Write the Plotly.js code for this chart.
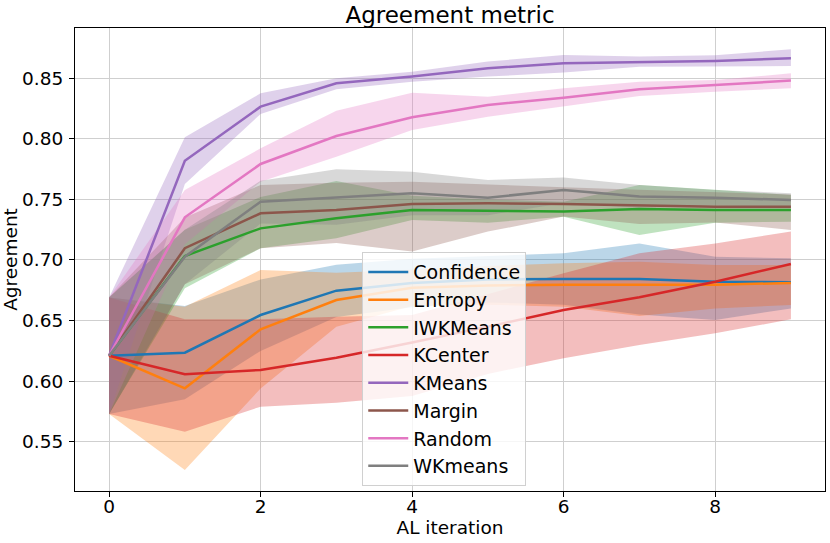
<!DOCTYPE html>
<html>
<head>
<meta charset="utf-8">
<script src="https://cdn.plot.ly/plotly-3.0.1.min.js"></script>
<style>
  body { margin: 0; }
  #chart { width: 830px; height: 543px; }
</style>
</head>
<body>
<div id="chart"></div>
<script>
// AL iterations
const iterations = [0, 1, 2, 3, 4, 5, 6, 7, 8, 9]

// mean agreement per strategy, with band upper/lower edges
const confidenceMean  = [0.621, 0.6235, 0.6546, 0.6747, 0.681, 0.684, 0.6843, 0.6843, 0.6821, 0.6816]
const confidenceUpper = [0.669, 0.662, 0.684, 0.696, 0.701, 0.703, 0.7055, 0.7137, 0.7027, 0.7014]
const confidenceLower = [0.573, 0.585, 0.625, 0.653, 0.661, 0.665, 0.663, 0.655, 0.6505, 0.66]

const entropyMean  = [0.621, 0.5941, 0.6428, 0.667, 0.677, 0.679, 0.6796, 0.6796, 0.6796, 0.681]
const entropyUpper = [0.669, 0.6615, 0.6917, 0.6895, 0.692, 0.695, 0.6973, 0.6986, 0.6959, 0.6959]
const entropyLower = [0.573, 0.5267, 0.594, 0.645, 0.662, 0.663, 0.6615, 0.6538, 0.66, 0.6629]

const iwkmeansMean  = [0.621, 0.7033, 0.7261, 0.7344, 0.7413, 0.7405, 0.7399, 0.7421, 0.7413, 0.7413]
const iwkmeansUpper = [0.669, 0.725, 0.752, 0.7652, 0.753, 0.75, 0.748, 0.7619, 0.758, 0.7536]
const iwkmeansLower = [0.573, 0.6766, 0.7097, 0.718, 0.733, 0.7308, 0.7357, 0.7206, 0.7308, 0.7316]

const kcenterMean  = [0.621, 0.6057, 0.6093, 0.6194, 0.632, 0.645, 0.6588, 0.6692, 0.6821, 0.6967]
const kcenterUpper = [0.669, 0.651, 0.651, 0.6532, 0.6547, 0.672, 0.689, 0.7055, 0.7137, 0.7234]
const kcenterLower = [0.573, 0.5583, 0.579, 0.5823, 0.5878, 0.606, 0.6189, 0.6299, 0.6395, 0.651]

const kmeansMean  = [0.621, 0.7819, 0.8265, 0.8458, 0.8513, 0.8582, 0.8623, 0.8631, 0.8642, 0.8664]
const kmeansUpper = [0.669, 0.8012, 0.8375, 0.8499, 0.8554, 0.8637, 0.8691, 0.8678, 0.869, 0.8738]
const kmeansLower = [0.573, 0.7627, 0.8205, 0.8408, 0.8471, 0.8513, 0.8546, 0.8595, 0.8595, 0.86]

const marginMean  = [0.621, 0.7097, 0.7385, 0.7413, 0.7462, 0.7468, 0.7462, 0.7454, 0.744, 0.744]
const marginUpper = [0.669, 0.735, 0.7619, 0.7638, 0.7646, 0.762, 0.76, 0.758, 0.756, 0.754]
const marginLower = [0.573, 0.68, 0.7097, 0.714, 0.7069, 0.7234, 0.7358, 0.7297, 0.731, 0.7248]

const randomMean  = [0.621, 0.7352, 0.7792, 0.8023, 0.8177, 0.8279, 0.8339, 0.8408, 0.8444, 0.848]
const randomUpper = [0.669, 0.7578, 0.7921, 0.8232, 0.838, 0.8347, 0.8417, 0.8471, 0.8485, 0.854]
const randomLower = [0.573, 0.713, 0.7646, 0.7852, 0.8073, 0.8182, 0.8265, 0.8353, 0.8389, 0.8417]

const wkmeansMean  = [0.621, 0.7027, 0.7481, 0.7517, 0.755, 0.7514, 0.7578, 0.7523, 0.7514, 0.7495]
const wkmeansUpper = [0.669, 0.725, 0.7654, 0.7748, 0.7729, 0.766, 0.768, 0.7619, 0.7578, 0.755]
const wkmeansLower = [0.573, 0.68, 0.73, 0.729, 0.737, 0.737, 0.747, 0.743, 0.745, 0.744]

const strategies = ['Confidence', 'Entropy', 'IWKMeans', 'KCenter', 'KMeans', 'Margin', 'Random', 'WKmeans']
const colors = ['#1f77b4', '#ff7f0e', '#2ca02c', '#d62728', '#9467bd', '#8c564b', '#e377c2', '#7f7f7f']
const means = [confidenceMean, entropyMean, iwkmeansMean, kcenterMean, kmeansMean, marginMean, randomMean, wkmeansMean]
const uppers = [confidenceUpper, entropyUpper, iwkmeansUpper, kcenterUpper, kmeansUpper, marginUpper, randomUpper, wkmeansUpper]
const lowers = [confidenceLower, entropyLower, iwkmeansLower, kcenterLower, kmeansLower, marginLower, randomLower, wkmeansLower]

function withAlpha(hex, a) {
  let r = parseInt(hex.slice(1, 3), 16)
  let g = parseInt(hex.slice(3, 5), 16)
  let b = parseInt(hex.slice(5, 7), 16)
  return `rgba(${r},${g},${b},${a})`
}

let bands = []
let lines = []
strategies.forEach((name, i) => {
  bands.push({
    x: iterations.concat(iterations.slice().reverse()),
    y: uppers[i].concat(lowers[i].slice().reverse()),
    legendgroup: name,
    showlegend: false,
    mode: 'lines',
    type: 'scatter',
    fill: 'toself',
    fillcolor: withAlpha(colors[i], 0.3),
    line: { width: 0, color: withAlpha(colors[i], 0.3) },
    hoverinfo: 'none'
  })
  lines.push({
    x: iterations,
    y: means[i],
    name: name,
    legendgroup: name,
    mode: 'lines',
    type: 'scatter',
    line: { color: colors[i], width: 2.5 },
    hoverinfo: 'none'
  })
})

// bands underneath, lines on top
let traces = bands.concat(lines)

const font = { family: 'DejaVu Sans', size: 18.5, color: '#000' }

const layout = {
  width: 830,
  height: 543,
  margin: { l: 75, r: 5, t: 28, b: 52 },
  paper_bgcolor: '#fff',
  plot_bgcolor: '#fff',
  font: font,
  showlegend: true,
  title: {
    text: 'Agreement metric',
    font: { family: 'DejaVu Sans', size: 23, color: '#000' },
    x: 0.5,
    xref: 'paper',
    y: 0.972,
    yref: 'container',
    yanchor: 'middle'
  },
  xaxis: {
    range: [-0.45, 9.45],
    tickvals: [0, 2, 4, 6, 8],
    ticks: 'outside',
    ticklen: 5,
    tickcolor: '#000',
    ticklabelstandoff: -6,
    showline: true,
    mirror: true,
    linecolor: '#000',
    linewidth: 1,
    showgrid: true,
    gridcolor: '#cfcfcf',
    zeroline: false,
    title: { text: 'AL iteration', font: font, standoff: 0 }
  },
  yaxis: {
    range: [0.5094, 0.8914],
    dtick: 0.05,
    tick0: 0.5,
    tickformat: '.2f',
    ticks: 'outside',
    ticklen: 5,
    tickcolor: '#000',
    ticklabelstandoff: 2,
    showline: true,
    mirror: true,
    linecolor: '#000',
    linewidth: 1,
    showgrid: true,
    gridcolor: '#cfcfcf',
    zeroline: false,
    title: { text: 'Agreement', font: font, standoff: 0 }
  },
  legend: {
    x: 0.383,
    y: 0.516,
    xanchor: 'left',
    yanchor: 'top',
    bgcolor: 'rgba(255,255,255,0.8)',
    bordercolor: '#d0d0d0',
    borderwidth: 1,
    font: { family: 'DejaVu Sans', size: 19, color: '#000' },
    itemwidth: 40,
    entrywidth: 184,
    traceorder: 'grouped',
    tracegroupgap: 0
  }
}

Plotly.newPlot('chart', traces, layout, { staticPlot: true })
</script>
</body>
</html>
